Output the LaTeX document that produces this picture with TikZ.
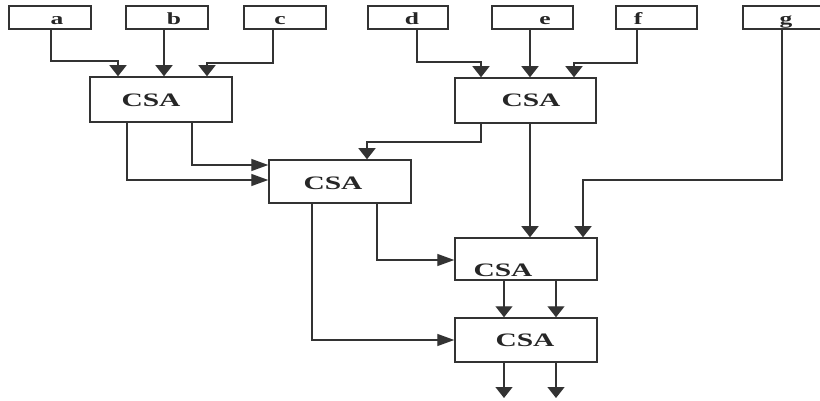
\documentclass[tikz,border=0pt]{standalone}
\usepackage{fontspec}
\setmainfont{Liberation Serif}
\usetikzlibrary{arrows.meta}
\begin{document}
\begin{tikzpicture}[x=1pt,y=-1pt,
  inbox/.style={draw=black!80,line width=1.5pt,minimum height=23pt,inner sep=0pt},
  csabox/.style={draw=black!80,line width=1.5pt,minimum width=142pt,inner sep=0pt},
  csatext/.style={inner sep=0pt,font=\fontsize{19}{19}\selectfont\bfseries,text=black!85},
  lbl/.style={inner sep=0pt,anchor=base,font=\fontsize{17}{17}\selectfont\bfseries,text=black!85},
  conn/.style={draw=black!80,line width=1.4pt},
  varr/.style={conn,-{Triangle[width=17pt,length=11pt]}},
  harr/.style={conn,-{Triangle[width=12pt,length=17pt]}}]
\useasboundingbox (0,0) rectangle (820,401);
\fill[white] (0,0) rectangle (820,401);
% input boxes
\node[inbox,minimum width=82pt] (ia) at (50,17.5) {};
\node[inbox,minimum width=82pt] (ib) at (167,17.5) {};
\node[inbox,minimum width=82pt] (ic) at (285,17.5) {};
\node[inbox,minimum width=80pt] (id) at (408,17.5) {};
\node[inbox,minimum width=81pt] (ie) at (532.5,17.5) {};
\node[inbox,minimum width=81pt] (if) at (656.5,17.5) {};
\node[inbox,minimum width=90pt] (ig) at (788,17.5) {};
\node[lbl] (la) at (57,25) {\scalebox{1.5}[1]{a}};
\node[lbl] (lb) at (174,25) {\scalebox{1.5}[1]{b}};
\node[lbl] (lc) at (280,25) {\scalebox{1.5}[1]{c}};
\node[lbl] (ld) at (412,25) {\scalebox{1.5}[1]{d}};
\node[lbl] (le) at (545,25) {\scalebox{1.5}[1]{e}};
\node[lbl] (lf) at (638,25) {\scalebox{1.5}[1]{f}};
\node[lbl] (lg) at (786,25) {\scalebox{1.5}[1]{g}};
% CSA boxes
\node[csabox,minimum height=45pt] (c1) at (161,99.5) {};
\node[csabox,minimum height=45pt,minimum width=141pt] (c2) at (525.5,100.5) {};
\node[csabox,minimum height=43pt] (c3) at (340,181.5) {};
\node[csabox,minimum height=42pt] (c4) at (526,259) {};
\node[csabox,minimum height=44pt] (c5) at (526,340) {};
\node[csatext] (t1) at (151,100) {\scalebox{1.55}[1]{CSA}};
\node[csatext] (t2) at (531,100) {\scalebox{1.55}[1]{CSA}};
\node[csatext] (t3) at (333,183) {\scalebox{1.55}[1]{CSA}};
\node[csatext] (t4) at (503,270) {\scalebox{1.55}[1]{CSA}};
\node[csatext] (t5) at (525,340) {\scalebox{1.55}[1]{CSA}};
% inputs to CSA1
\draw[varr] ([xshift=1pt]ia.south) |- (118,61) -- (c1.north -| 118,0);
\draw[varr] ([xshift=-3pt]ib.south) -- (c1.north -| 164,0);
\draw[varr] ([xshift=-12pt]ic.south) |- (207,63) -- (c1.north -| 207,0);
% inputs to CSA2
\draw[varr] ([xshift=9pt]id.south) |- (481,62) -- (c2.north -| 481,0);
\draw[varr] ([xshift=-2.5pt]ie.south) -- (c2.north -| 530,0);
\draw[varr] ([xshift=-19.5pt]if.south) |- (574,63) -- (c2.north -| 574,0);
% g to CSA4
\draw[varr] ([xshift=-6pt]ig.south) |- (583,180) -- (c4.north -| 583,0);
% CSA1 to CSA3
\draw[harr] (c1.south -| 192,0) |- (c3.west |- 0,165);
\draw[harr] (c1.south -| 127,0) |- (c3.west |- 0,180);
% CSA2 to CSA3, CSA4
\draw[varr] (c2.south -| 481,0) |- (367,142) -- (c3.north -| 367,0);
\draw[varr] (c2.south -| 530,0) -- (c4.north -| 530,0);
% CSA3 to CSA4, CSA5
\draw[harr] (c3.south -| 377,0) |- (c4.west |- 0,260);
\draw[harr] (c3.south -| 312,0) |- (c5.west |- 0,340);
% CSA4 to CSA5
\draw[varr] (c4.south -| 504,0) -- (c5.north -| 504,0);
\draw[varr] (c4.south -| 556,0) -- (c5.north -| 556,0);
% outputs
\coordinate (o1) at (504,398);
\coordinate (o2) at (556,398);
\draw[varr] (c5.south -| o1) -- (o1);
\draw[varr] (c5.south -| o2) -- (o2);
\end{tikzpicture}
\end{document}
